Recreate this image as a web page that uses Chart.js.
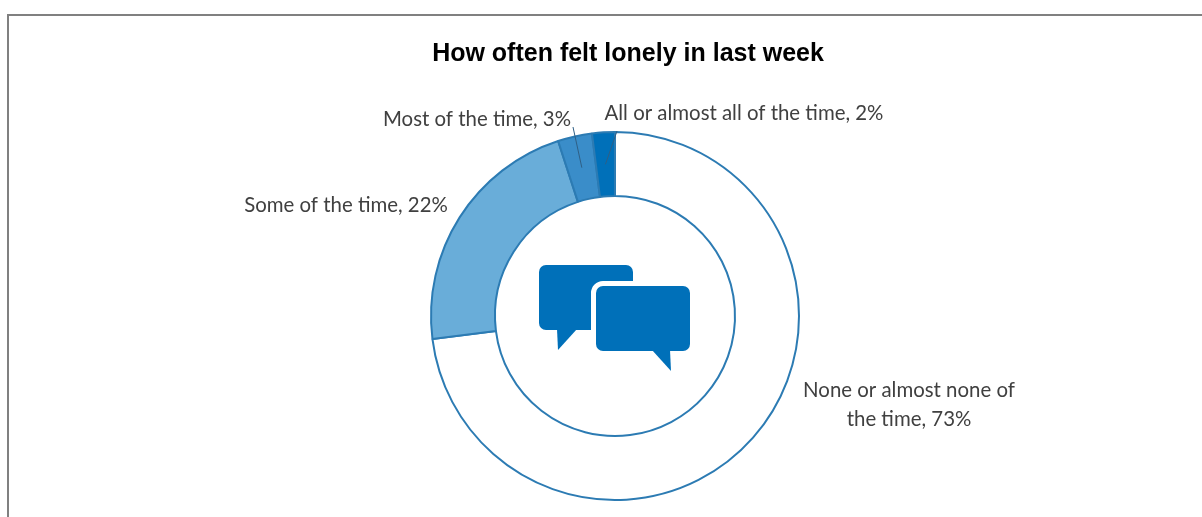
<!DOCTYPE html>
<html>
<head>
<meta charset="utf-8">
<script src="https://cdn.jsdelivr.net/npm/chart.js@4"></script>
<style>
  html, body { margin: 0; padding: 0; background: #fff; overflow: hidden; }
  #wrap { position: relative; width: 1202px; height: 517px; }
</style>
</head>
<body>
<div id="wrap"><canvas id="lonelyChart" width="1202" height="517"></canvas></div>
<script>
// Data
const titleText = 'How often felt lonely in last week';
const categories = ['None or almost none of the time', 'Some of the time', 'Most of the time', 'All or almost all of the time'];
const shares = [73, 22, 3, 2];
const sliceColors = ['#ffffff', '#69add9', '#3a8dc9', '#0070b9'];

// where each label goes: lines of text, centre x, first baseline y, leader line start (or null)
const labelLayout = [
  { lines: ['None or almost none of', 'the time, 73%'], x: 909, y: 397, leader: null },
  { lines: ['Some of the time, 22%'], x: 346, y: 212, leader: null },
  { lines: ['Most of the time, 3%'], x: 477, y: 126, leader: [573, 127] },
  { lines: ['All or almost all of the time, 2%'], x: 744, y: 120, leader: [617, 131] },
];

// frame round the picture, open at the bottom
const framePlugin = {
  id: 'frame',
  beforeDraw(chart) {
    const ctx = chart.ctx;
    ctx.save();
    ctx.strokeStyle = '#808080';
    ctx.lineWidth = 2;
    ctx.beginPath();
    ctx.moveTo(8, 517);
    ctx.lineTo(8, 15);
    ctx.lineTo(1202, 15);
    ctx.stroke();
    ctx.restore();
  },
};

// the title is wider than the ring and sits right of its centre in the original
const titleShift = {
  id: 'titleShift',
  afterLayout(chart) {
    chart.titleBlock.left -= 100;
    chart.titleBlock.right += 126;
  },
};

function fillBubble(ctx, x, y, w, h, r, tail) {
  ctx.beginPath();
  ctx.roundRect(x, y, w, h, r);
  ctx.fill();
  ctx.beginPath();
  ctx.moveTo(tail[0][0], tail[0][1]);
  ctx.lineTo(tail[1][0], tail[1][1]);
  ctx.lineTo(tail[2][0], tail[2][1]);
  ctx.closePath();
  ctx.fill();
}

// speech bubble icon in the hole of the ring
const iconPlugin = {
  id: 'icon',
  afterDatasetsDraw(chart) {
    const ctx = chart.ctx;
    const c = chart.getDatasetMeta(0).data[0];
    const cx = c.x, cy = c.y;
    ctx.save();
    ctx.fillStyle = '#0070b9';
    fillBubble(ctx, cx - 76, cy - 51, 94, 65, 7, [[cx - 58, cy + 13], [cx - 57, cy + 34], [cx - 38, cy + 13]]);
    ctx.strokeStyle = '#ffffff';
    ctx.lineWidth = 10;
    ctx.beginPath();
    ctx.roundRect(cx - 19, cy - 30, 94, 65, 7);
    ctx.stroke();
    fillBubble(ctx, cx - 19, cy - 30, 94, 65, 7, [[cx + 37, cy + 34], [cx + 56, cy + 55], [cx + 55, cy + 34]]);
    ctx.restore();
  },
};

// data labels with leader lines down to the middle of the slice
const labelPlugin = {
  id: 'sliceLabels',
  afterDatasetsDraw(chart) {
    const ctx = chart.ctx;
    const arcs = chart.getDatasetMeta(0).data;
    ctx.save();
    ctx.font = '20.4px Lato';
    ctx.fillStyle = '#404040';
    ctx.textAlign = 'center';
    ctx.textBaseline = 'alphabetic';
    labelLayout.forEach((lab, i) => {
      lab.lines.forEach((t, n) => ctx.fillText(t, lab.x, lab.y + n * 29));
      if (lab.leader) {
        const p = arcs[i].tooltipPosition();
        ctx.strokeStyle = '#2f5f85';
        ctx.lineWidth = 1;
        ctx.beginPath();
        ctx.moveTo(lab.leader[0], lab.leader[1]);
        ctx.lineTo(p.x, p.y);
        ctx.stroke();
      }
    });
    ctx.restore();
  },
};

const ctx = document.getElementById('lonelyChart').getContext('2d');
new Chart(ctx, {
  type: 'doughnut',
  data: {
    labels: categories,
    datasets: [{
      data: shares,
      backgroundColor: sliceColors,
      borderColor: '#2c7bb3',
      borderWidth: 2,
    }],
  },
  options: {
    responsive: false,
    animation: false,
    cutout: 120,
    layout: { padding: { top: 39, bottom: 16, left: 430, right: 402 } },
    plugins: {
      legend: { display: false },
      tooltip: { enabled: false },
      title: {
        display: true,
        text: titleText,
        color: '#000000',
        font: { family: '"Liberation Sans"', size: 25, weight: 'bold' },
        padding: { top: 0, bottom: 62 },
      },
    },
  },
  plugins: [framePlugin, titleShift, iconPlugin, labelPlugin],
});
</script>
</body>
</html>
